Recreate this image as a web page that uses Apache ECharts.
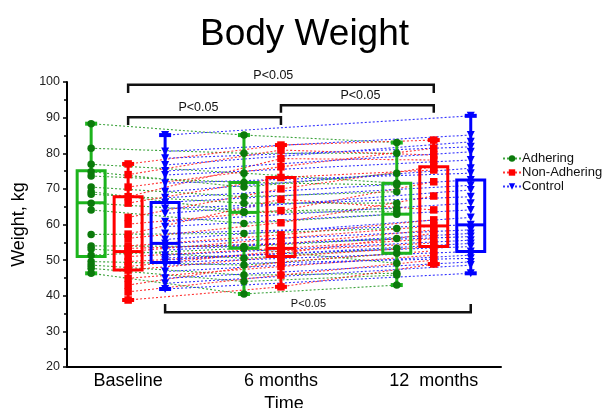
<!DOCTYPE html>
<html>
<head>
<meta charset="utf-8">
<script src="https://cdn.jsdelivr.net/npm/echarts@6/dist/echarts.min.js"></script>
<style>
  html, body { margin: 0; padding: 0; background: #fff; }
  #chart { width: 609px; height: 408px; }
</style>
</head>
<body>
<div id="chart"></div>
<script>
// time points on the x axis
var timeLabels = ['Baseline', '6 months', '12  months'];
var groupNames = ['Adhering', 'Non-Adhering', 'Control'];

// individual subjects (kg)
var adhBase = [88.3, 81.4, 76.9, 74.8, 73.6, 70.5, 69.2, 68.5, 66.0, 64.1, 57.2, 54.0, 53.1, 51.4, 49.6, 48.6, 47.7, 46.3];
var adh6    = [85.1, 80.0, 74.4, 70.5, 71.8, 67.8, 63.6, 66.0, 63.4, 60.3, 57.5, 53.8, 50.5, 53.3, 48.6, 45.8, 44.0, 40.5];
var adh12   = [83.0, 80.0, 71.6, 74.4, 71.1, 69.2, 64.5, 66.0, 63.6, 62.9, 58.9, 56.1, 53.3, 49.1, 51.9, 46.3, 45.8, 43.0];

var nonBase = [77.0, 74.0, 70.5, 67.8, 66.0, 62.0, 60.1, 57.3, 56.1, 54.0, 53.3, 52.4, 51.0, 49.6, 48.2, 47.2, 44.9, 43.0, 41.1, 38.8];
var non6    = [82.3, 80.9, 76.2, 78.5, 73.2, 70.0, 63.9, 67.1, 60.5, 57.1, 54.5, 56.1, 53.3, 51.9, 52.6, 51.0, 48.2, 49.5, 45.8, 42.5];
var non12   = [83.7, 79.5, 81.4, 78.1, 75.3, 76.2, 72.0, 64.1, 68.0, 61.3, 58.5, 59.6, 56.0, 57.5, 54.8, 53.8, 51.4, 52.6, 50.0, 48.9];

var ctrlBase = [85.1, 80.5, 78.6, 76.7, 75.0, 73.9, 71.6, 69.2, 67.5, 66.2, 64.5, 63.1, 60.8, 59.4, 57.5, 55.8, 54.7, 53.6, 52.8, 51.4, 50.6, 50.0, 49.3, 48.6, 46.8, 44.9, 43.5, 41.9];
var ctrl12   = [90.5, 85.1, 81.8, 83.2, 80.4, 78.1, 74.4, 75.8, 72.5, 71.0, 67.8, 69.7, 66.0, 64.1, 59.9, 62.0, 58.5, 56.6, 57.5, 55.6, 53.8, 54.7, 52.4, 50.5, 51.4, 49.5, 48.6, 46.3];

// box stats per time point: [min, Q1, median, Q3, max]
var adhBox  = [[46.3, 51.0, 66.1, 75.1, 88.3], [40.5, 53.3, 63.4, 71.8, 85.1], [43.0, 51.9, 62.9, 71.6, 83.0]];
var nonBox  = [[38.8, 47.2, 52.4, 67.8, 77.0], [42.5, 51.0, 53.3, 73.2, 82.3], [48.9, 53.8, 59.6, 76.2, 83.7]];
var ctrlBox = [[41.9, 49.3, 54.7, 66.2, 85.1], null, [46.3, 52.4, 59.9, 72.5, 90.5]];

// significance brackets: [from, to, lineY, legY, textX]
var brackets = [
  [0, 2, 99.2, 96.9, 0.95],
  [0, 1, 90.1, 87.9, 0.46],
  [1, 2, 93.5, 91.4, 1.52],
  [0.242, 2.242, 35.4, 37.7, 1.18]
];
var bracketText = 'P<0.05';

var offsets = [-0.242, 0, 0.242];
var boxColors = ['#1db41d', '#ff0000', '#0000ff'];
var markColors = ['#0b7a0b', '#ff0000', '#0000ff'];
var lineColors = ['#2a9a2a', '#ff2020', '#2020ff'];
var FONT = 'Liberation Sans, Arial, sans-serif';

function tracks(base, six, twelve, off) {
  var out = [];
  for (var i = 0; i < base.length; i++) {
    out.push([0 + off, base[i]]);
    if (six) out.push([1 + off, six[i]]);
    out.push([2 + off, twelve[i]]);
    out.push([null, null]);
  }
  return out;
}
function points(base, six, twelve, off) {
  var out = [];
  base.forEach(function (v) { out.push([0 + off, v]); });
  if (six) six.forEach(function (v) { out.push([1 + off, v]); });
  twelve.forEach(function (v) { out.push([2 + off, v]); });
  return out;
}
function boxData(stats, off) {
  var out = [];
  stats.forEach(function (s, t) {
    if (s) out.push([t + off].concat(s));
  });
  return out;
}

function renderBox(params, api) {
  var x = api.value(0);
  var half = api.size([0.183, 0])[0] / 2;
  var pMin = api.coord([x, api.value(1)]);
  var pQ1 = api.coord([x, api.value(2)]);
  var pMed = api.coord([x, api.value(3)]);
  var pQ3 = api.coord([x, api.value(4)]);
  var pMax = api.coord([x, api.value(5)]);
  var cx = pMin[0];
  var color = api.visual('color');
  var st = { stroke: color, lineWidth: 3, fill: null };
  var cap = { stroke: color, lineWidth: 4 };
  return {
    type: 'group',
    children: [
      { type: 'line', shape: { x1: cx, y1: pMax[1], x2: cx, y2: pQ3[1] }, style: st },
      { type: 'line', shape: { x1: cx, y1: pQ1[1], x2: cx, y2: pMin[1] }, style: st },
      { type: 'line', shape: { x1: cx - 6, y1: pMax[1], x2: cx + 6, y2: pMax[1] }, style: cap },
      { type: 'line', shape: { x1: cx - 6, y1: pMin[1], x2: cx + 6, y2: pMin[1] }, style: cap },
      { type: 'rect', shape: { x: cx - half, y: pQ3[1], width: half * 2, height: pQ1[1] - pQ3[1] }, style: { stroke: color, lineWidth: 3, fill: 'none' } },
      { type: 'line', shape: { x1: cx - half, y1: pMed[1], x2: cx + half, y2: pMed[1] }, style: st }
    ]
  };
}

function renderBracket(params, api) {
  var a = api.coord([api.value(0), api.value(2)]);
  var b = api.coord([api.value(1), api.value(2)]);
  var legY = api.coord([api.value(0), api.value(3)])[1];
  var tx = api.coord([api.value(4), api.value(2)])[0];
  var bottom = legY < a[1];
  return {
    type: 'group',
    children: [
      { type: 'polyline', shape: { points: [[a[0], legY], a, b, [b[0], legY]] }, style: { stroke: '#111', lineWidth: 2.5, fill: null } },
      { type: 'text', x: tx, y: a[1] - 3, style: { text: bracketText, fill: '#111', font: (bottom ? 11 : 12.5) + 'px ' + FONT, textAlign: 'center', textVerticalAlign: 'bottom' } }
    ]
  };
}

var groups = [
  { base: adhBase, six: adh6, twelve: adh12, box: adhBox, symbol: 'circle', size: 7.5, rot: 0 },
  { base: nonBase, six: non6, twelve: non12, box: nonBox, symbol: 'rect', size: 7.5, rot: 0 },
  { base: ctrlBase, six: null, twelve: ctrl12, box: ctrlBox, symbol: 'triangle', size: 8, rot: 180 }
];

var series = [];
groups.forEach(function (g, k) {
  series.push({
    name: groupNames[k],
    type: 'line',
    data: tracks(g.base, g.six, g.twelve, offsets[k]),
    showSymbol: false,
    symbol: g.symbol,
    symbolSize: g.size,
    symbolRotate: g.rot,
    connectNulls: false,
    z: 1,
    itemStyle: { color: markColors[k] },
    lineStyle: { color: lineColors[k], width: 1.1, type: [2, 2], opacity: 0.9 },
    silent: true
  });
});
groups.forEach(function (g, k) {
  series.push({
    name: groupNames[k] + ' box',
    type: 'custom',
    renderItem: renderBox,
    data: boxData(g.box, offsets[k]),
    encode: { x: 0, y: [1, 2, 3, 4, 5] },
    itemStyle: { color: boxColors[k] },
    z: 2,
    silent: true
  });
});
groups.forEach(function (g, k) {
  series.push({
    name: groupNames[k] + ' pts',
    type: 'scatter',
    data: points(g.base, g.six, g.twelve, offsets[k]),
    symbol: g.symbol,
    symbolSize: g.size,
    symbolRotate: g.rot,
    itemStyle: { color: markColors[k], opacity: 1 },
    z: 3,
    silent: true
  });
});
series.push({
  type: 'custom',
  renderItem: renderBracket,
  data: brackets,
  encode: { x: [0, 1], y: 2 },
  z: 4,
  silent: true
});

var myChart = echarts.init(document.getElementById('chart'));
myChart.setOption({
  animation: false,
  textStyle: { fontFamily: FONT },
  title: {
    text: 'Body Weight',
    left: 'center',
    top: 16,
    padding: 0,
    textStyle: { fontSize: 37, fontWeight: 'normal', color: '#000', fontFamily: FONT }
  },
  legend: {
    data: groupNames,
    orient: 'vertical',
    left: 497,
    top: 147,
    itemGap: 1,
    itemWidth: 18,
    itemHeight: 8,
    textStyle: { fontSize: 13, color: '#111', padding: [0, 0, 0, -4] }
  },
  grid: { left: 67, right: 108, top: 82, bottom: 41, containLabel: false, outerBoundsMode: 'none' },
  xAxis: {
    type: 'value',
    min: -0.4,
    max: 2.44,
    splitLine: { show: false },
    axisLine: { onZero: false, lineStyle: { color: '#000', width: 2 } },
    axisTick: { show: false },
    axisLabel: {
      customValues: [0, 1, 2],
      formatter: function (v) { return timeLabels[Math.round(v)]; },
      fontSize: 18,
      color: '#000',
      margin: 5
    },
    name: 'Time',
    nameLocation: 'middle',
    nameGap: 20,
    nameTextStyle: { fontSize: 18, color: '#000' }
  },
  yAxis: {
    type: 'value',
    min: 20,
    max: 100,
    interval: 10,
    splitLine: { show: false },
    axisLine: { show: true, onZero: false, lineStyle: { color: '#000', width: 2 } },
    axisTick: { show: true, length: 4, lineStyle: { color: '#000', width: 1.5 } },
    minorTick: { show: true, splitNumber: 2, length: 3, lineStyle: { color: '#000', width: 1.5 } },
    axisLabel: { fontSize: 12.5, color: '#222', margin: 7 },
    name: 'Weight, kg',
    nameLocation: 'middle',
    nameGap: 34,
    nameTextStyle: { fontSize: 18, color: '#000' }
  },
  series: series
});
</script>
</body>
</html>
